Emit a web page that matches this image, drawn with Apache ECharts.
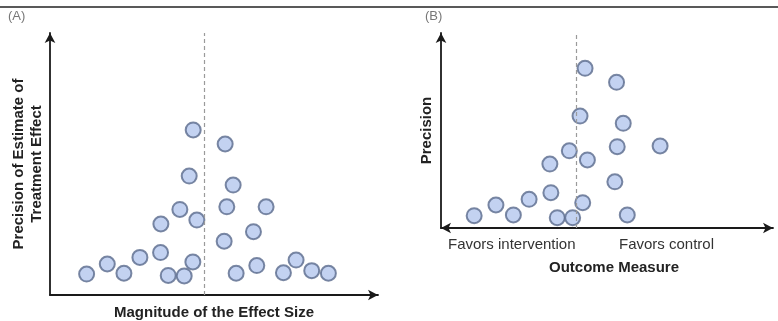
<!DOCTYPE html>
<html>
<head>
<meta charset="utf-8">
<script src="https://cdn.jsdelivr.net/npm/echarts@6/dist/echarts.min.js"></script>
<style>
html,body{margin:0;padding:0;background:#fff;}
#c{width:778px;height:321px;}
</style>
</head>
<body>
<div id="c"></div>
<script>
// Panel A: symmetric funnel plot (effect size vs precision), arbitrary 0-100 units
const studiesA_x = [11.0,17.2,22.2,27.0,33.2,35.5,40.3,42.9,33.3,39.0,44.1,41.8,43.0,52.6,55.0,53.1,64.9,52.3,61.1,55.9,62.1,70.1,73.9,78.6,83.6];
const studiesA_y = [7.9,11.7,8.2,14.2,16.0,7.4,7.2,12.5,26.8,32.3,28.3,44.9,62.3,57.0,41.5,33.3,33.3,20.3,23.9,8.2,11.1,8.4,13.2,9.2,8.2];
const pooledA = 46.2;
// Panel B: asymmetric funnel plot
const studiesB_x = [9.9,16.4,21.6,26.3,32.8,34.7,39.3,42.3,32.5,38.3,43.7,41.5,43.0,52.4,54.4,52.6,65.4,51.9,55.6];
const studiesB_y = [6.3,11.8,6.7,14.7,18.1,5.3,5.3,13.0,32.8,39.6,34.9,57.4,81.9,74.7,53.7,41.7,42.1,23.7,6.7];
const pooledB = 40.3;

const labels = {
  panelA: '(A)', panelB: '(B)',
  xA: 'Magnitude of the Effect Size',
  yA: 'Precision of Estimate of\nTreatment Effect',
  xB: 'Outcome Measure', yB: 'Precision',
  favInt: 'Favors intervention', favCtl: 'Favors control'
};

const zip = (xs, ys) => xs.map((x, i) => [x, ys[i]]);
const FONT = '"Liberation Sans", Arial, sans-serif';
const axisLine = (sym) => ({
  show: true, symbol: sym, symbolSize: [8, 10],
  lineStyle: { color: '#1a1a1a', width: 1.8 }
});
const baseAxis = {
  type: 'value', splitLine: { show: false }, axisTick: { show: false },
  axisLabel: { show: false }
};
const nameStyle = { fontFamily: FONT, fontWeight: 'bold', fontSize: 15, color: '#222' };
const pointStyle = { color: '#b4c7ee', borderColor: '#5a6a8c', borderWidth: 2 };
const dashLine = (x, ymax) => ({
  silent: true, symbol: ['none', 'none'], label: { show: false },
  lineStyle: { type: [4, 3], color: '#9a9a9a', width: 1.2 },
  data: [[{ coord: [x, 0] }, { coord: [x, ymax] }]]
});

const chart = echarts.init(document.getElementById('c'), null, { renderer: 'canvas' });
chart.setOption({
  backgroundColor: '#fff',
  animation: false,
  grid: [
    { left: 50, top: 33, width: 328, height: 262, outerBoundsMode: 'none', containLabel: false },
    { left: 441, top: 33, width: 332, height: 195, outerBoundsMode: 'none', containLabel: false }
  ],
  xAxis: [
    Object.assign({}, baseAxis, { gridIndex: 0, min: 0, max: 98.5,
      axisLine: axisLine(['none', 'arrow']),
      name: labels.xA, nameLocation: 'middle', nameGap: 10, nameTextStyle: nameStyle }),
    Object.assign({}, baseAxis, { gridIndex: 1, min: 0, max: 99.1,
      axisLine: axisLine(['arrow', 'arrow']),
      name: labels.xB, nameLocation: 'middle', nameGap: 32,
      nameTextStyle: Object.assign({ padding: [0, 0, 0, 14] }, nameStyle) })
  ],
  yAxis: [
    Object.assign({}, baseAxis, { gridIndex: 0, min: 0, max: 98.9,
      axisLine: axisLine(['none', 'arrow']),
      name: labels.yA, nameLocation: 'middle', nameGap: 4,
      nameTextStyle: Object.assign({ lineHeight: 18 }, nameStyle) }),
    Object.assign({}, baseAxis, { gridIndex: 1, min: 0, max: 100,
      axisLine: axisLine(['none', 'arrow']),
      name: labels.yB, nameLocation: 'middle', nameGap: 7, nameTextStyle: nameStyle })
  ],
  series: [
    { type: 'scatter', xAxisIndex: 0, yAxisIndex: 0, symbolSize: 15,
      itemStyle: pointStyle, data: zip(studiesA_x, studiesA_y),
      markLine: dashLine(pooledA, 98.9), z: 3 },
    { type: 'scatter', xAxisIndex: 1, yAxisIndex: 1, symbolSize: 15,
      itemStyle: pointStyle, data: zip(studiesB_x, studiesB_y),
      markLine: dashLine(pooledB, 100), z: 3 }
  ],
  graphic: [
    { type: 'line', shape: { x1: 0, y1: 7, x2: 778, y2: 7 }, style: { stroke: '#222', lineWidth: 1.5 } },
    { type: 'text', x: 8, y: 10, style: { text: labels.panelA, font: '13px ' + FONT, fill: '#777' } },
    { type: 'text', x: 425, y: 10, style: { text: labels.panelB, font: '13px ' + FONT, fill: '#777' } },
    { type: 'text', x: 448, y: 237, style: { text: labels.favInt, font: '15px ' + FONT, fill: '#333' } },
    { type: 'text', x: 619, y: 237, style: { text: labels.favCtl, font: '15px ' + FONT, fill: '#333' } }
  ]
});
</script>
</body>
</html>
